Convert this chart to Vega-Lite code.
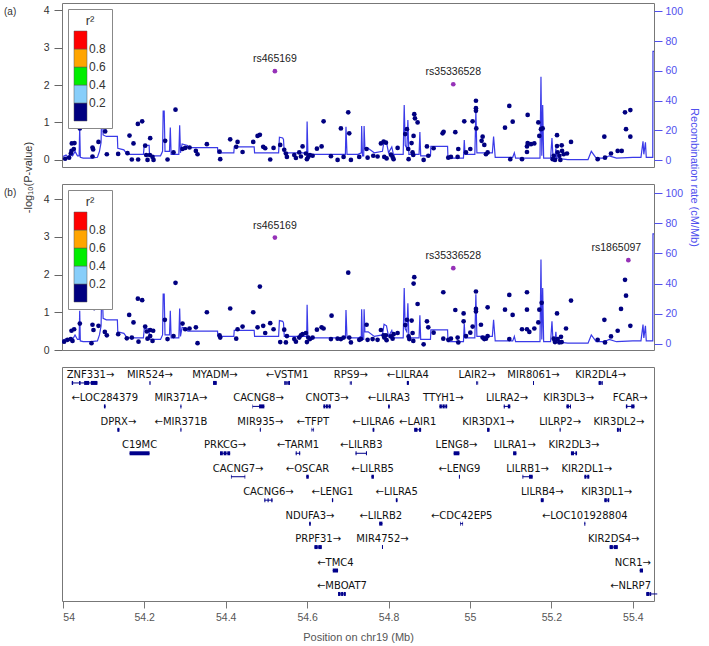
{
  "$schema": "https://vega.github.io/schema/vega-lite/v6.json",
  "padding": {"left": 3, "top": 2, "right": 1, "bottom": 1},
  "bounds": "flush",
  "spacing": 17,
  "datasets": {
    "recomb": [
      {"pos":54.000,"rate":2.5},{"pos":54.008,"rate":3.5},{"pos":54.012,"rate":2},{"pos":54.018,"rate":4},{"pos":54.024,"rate":3},{"pos":54.030,"rate":6},{"pos":54.036,"rate":3},{"pos":54.040,"rate":3},{"pos":54.0415,"rate":22},{"pos":54.043,"rate":2},{"pos":54.050,"rate":1.5},{"pos":54.070,"rate":1.5},{"pos":54.085,"rate":2},{"pos":54.090,"rate":6},{"pos":54.094,"rate":12},{"pos":54.096,"rate":42},{"pos":54.099,"rate":17},{"pos":54.107,"rate":16},{"pos":54.134,"rate":16},{"pos":54.135,"rate":8},{"pos":54.150,"rate":7},{"pos":54.158,"rate":4},{"pos":54.198,"rate":4},{"pos":54.200,"rate":10},{"pos":54.212,"rate":10},{"pos":54.213,"rate":3},{"pos":54.240,"rate":3},{"pos":54.245,"rate":6},{"pos":54.2465,"rate":33},{"pos":54.249,"rate":33},{"pos":54.251,"rate":6},{"pos":54.262,"rate":6},{"pos":54.264,"rate":22},{"pos":54.266,"rate":4},{"pos":54.285,"rate":4},{"pos":54.287,"rate":23.5},{"pos":54.289,"rate":5},{"pos":54.293,"rate":11},{"pos":54.306,"rate":10},{"pos":54.307,"rate":8.5},{"pos":54.380,"rate":8.5},{"pos":54.381,"rate":5},{"pos":54.420,"rate":5},{"pos":54.421,"rate":9},{"pos":54.470,"rate":9},{"pos":54.471,"rate":5},{"pos":54.530,"rate":5},{"pos":54.532,"rate":15.5},{"pos":54.540,"rate":15},{"pos":54.542,"rate":14},{"pos":54.544,"rate":5},{"pos":54.599,"rate":5},{"pos":54.600,"rate":26},{"pos":54.602,"rate":4},{"pos":54.694,"rate":4},{"pos":54.6955,"rate":22.5},{"pos":54.698,"rate":4},{"pos":54.725,"rate":4},{"pos":54.733,"rate":5},{"pos":54.734,"rate":23},{"pos":54.736,"rate":3},{"pos":54.739,"rate":3},{"pos":54.740,"rate":23},{"pos":54.742,"rate":8},{"pos":54.750,"rate":8},{"pos":54.765,"rate":5},{"pos":54.785,"rate":6},{"pos":54.789,"rate":13},{"pos":54.795,"rate":12},{"pos":54.800,"rate":5},{"pos":54.808,"rate":9},{"pos":54.812,"rate":4},{"pos":54.836,"rate":4},{"pos":54.8385,"rate":37},{"pos":54.841,"rate":10},{"pos":54.845,"rate":8},{"pos":54.8475,"rate":27},{"pos":54.850,"rate":4},{"pos":54.875,"rate":4},{"pos":54.877,"rate":19},{"pos":54.879,"rate":3},{"pos":54.903,"rate":3},{"pos":54.904,"rate":9.4},{"pos":54.945,"rate":9.4},{"pos":54.946,"rate":1.5},{"pos":54.984,"rate":1.5},{"pos":54.986,"rate":13.6},{"pos":54.988,"rate":4},{"pos":55.012,"rate":4},{"pos":55.0145,"rate":33},{"pos":55.017,"rate":5},{"pos":55.055,"rate":5},{"pos":55.058,"rate":16},{"pos":55.062,"rate":2},{"pos":55.105,"rate":2},{"pos":55.109,"rate":5},{"pos":55.112,"rate":1.5},{"pos":55.172,"rate":1.5},{"pos":55.1744,"rate":56},{"pos":55.1765,"rate":3},{"pos":55.1786,"rate":37},{"pos":55.181,"rate":1.5},{"pos":55.198,"rate":1.5},{"pos":55.2014,"rate":15},{"pos":55.204,"rate":2},{"pos":55.209,"rate":2},{"pos":55.211,"rate":8},{"pos":55.213,"rate":1},{"pos":55.220,"rate":2},{"pos":55.225,"rate":1},{"pos":55.240,"rate":0.5},{"pos":55.290,"rate":0.5},{"pos":55.298,"rate":6},{"pos":55.310,"rate":1.5},{"pos":55.330,"rate":1.5},{"pos":55.342,"rate":3},{"pos":55.360,"rate":1.5},{"pos":55.400,"rate":2},{"pos":55.420,"rate":2},{"pos":55.425,"rate":12.8},{"pos":55.427,"rate":4},{"pos":55.431,"rate":12},{"pos":55.433,"rate":2},{"pos":55.449,"rate":2},{"pos":55.4495,"rate":73},{"pos":55.452,"rate":73}
    ],
    "snpA": [
      {"pos":54.0057,"logp":0.03,"r2":0.1},{"pos":54.0155,"logp":0.06,"r2":0.1},{"pos":54.0197,"logp":0.17,"r2":0.1},{"pos":54.0221,"logp":0.44,"r2":0.1},{"pos":54.0287,"logp":0.45,"r2":0.1},{"pos":54.027,"logp":0.29,"r2":0.1},{"pos":54.0213,"logp":0.24,"r2":0.1},{"pos":54.0418,"logp":0.84,"r2":0.1},{"pos":54.0769,"logp":1.1,"r2":0.1},{"pos":54.0729,"logp":0.33,"r2":0.1},{"pos":54.0745,"logp":0.28,"r2":0.1},{"pos":54.0729,"logp":0.09,"r2":0.1},{"pos":54.0876,"logp":0.48,"r2":0.1},{"pos":54.104,"logp":0.76,"r2":0.1},{"pos":54.1081,"logp":0.15,"r2":0.1},{"pos":54.1359,"logp":0.16,"r2":0.1},{"pos":54.1638,"logp":0.65,"r2":0.1},{"pos":54.1736,"logp":0.44,"r2":0.1},{"pos":54.1589,"logp":0.18,"r2":0.1},{"pos":54.1695,"logp":0.01,"r2":0.1},{"pos":54.1843,"logp":0.96,"r2":0.1},{"pos":54.1949,"logp":1.03,"r2":0.1},{"pos":54.185,"logp":0.01,"r2":0.1},{"pos":54.2023,"logp":0.38,"r2":0.1},{"pos":54.2146,"logp":0.58,"r2":0.1},{"pos":54.2048,"logp":0.13,"r2":0.1},{"pos":54.2081,"logp":0.0,"r2":0.1},{"pos":54.2228,"logp":0.0,"r2":0.1},{"pos":54.2138,"logp":0.13,"r2":0.1},{"pos":54.2203,"logp":0.08,"r2":0.1},{"pos":54.2514,"logp":0.51,"r2":0.1},{"pos":54.2572,"logp":0.01,"r2":0.1},{"pos":54.2768,"logp":1.34,"r2":0.1},{"pos":54.2719,"logp":0.2,"r2":0.1},{"pos":54.294,"logp":0.29,"r2":0.1},{"pos":54.3006,"logp":0.32,"r2":0.1},{"pos":54.3113,"logp":0.33,"r2":0.1},{"pos":54.3268,"logp":0.24,"r2":0.1},{"pos":54.3309,"logp":0.15,"r2":0.1},{"pos":54.3538,"logp":0.42,"r2":0.1},{"pos":54.385,"logp":0.22,"r2":0.1},{"pos":54.3866,"logp":0.02,"r2":0.1},{"pos":54.4111,"logp":0.55,"r2":0.1},{"pos":54.4259,"logp":0.35,"r2":0.1},{"pos":54.4292,"logp":0.48,"r2":0.1},{"pos":54.4415,"logp":0.21,"r2":0.1},{"pos":54.4676,"logp":0.48,"r2":0.1},{"pos":54.4783,"logp":0.64,"r2":0.1},{"pos":54.484,"logp":0.67,"r2":0.1},{"pos":54.4922,"logp":0.35,"r2":0.1},{"pos":54.4971,"logp":0.31,"r2":0.1},{"pos":54.5094,"logp":0.01,"r2":0.1},{"pos":54.5176,"logp":0.32,"r2":0.1},{"pos":54.534,"logp":0.4,"r2":0.1},{"pos":54.5438,"logp":0.27,"r2":0.1},{"pos":54.5479,"logp":0.17,"r2":0.1},{"pos":54.5504,"logp":0.08,"r2":0.1},{"pos":54.5684,"logp":0.13,"r2":0.1},{"pos":54.5725,"logp":0.05,"r2":0.1},{"pos":54.5807,"logp":0.2,"r2":0.1},{"pos":54.5848,"logp":0.09,"r2":0.1},{"pos":54.5889,"logp":0.36,"r2":0.1},{"pos":54.5971,"logp":0.17,"r2":0.1},{"pos":54.5995,"logp":0.02,"r2":0.1},{"pos":54.6028,"logp":0.08,"r2":0.1},{"pos":54.6069,"logp":0.13,"r2":0.1},{"pos":54.6135,"logp":0.11,"r2":0.1},{"pos":54.6241,"logp":0.3,"r2":0.1},{"pos":54.6356,"logp":0.36,"r2":0.1},{"pos":54.6405,"logp":1.03,"r2":0.1},{"pos":54.6585,"logp":0.1,"r2":0.1},{"pos":54.6749,"logp":0.0,"r2":0.1},{"pos":54.683,"logp":0.84,"r2":0.1},{"pos":54.6896,"logp":0.08,"r2":0.1},{"pos":54.701,"logp":1.27,"r2":0.1},{"pos":54.7035,"logp":0.71,"r2":0.1},{"pos":54.7076,"logp":0.0,"r2":0.1},{"pos":54.728,"logp":0.08,"r2":0.1},
      {"pos":54.746,"logp":0.29,"r2":0.1},{"pos":54.7486,"logp":0.06,"r2":0.1},{"pos":54.7625,"logp":0.11,"r2":0.1},{"pos":54.7731,"logp":0.09,"r2":0.1},{"pos":54.7813,"logp":0.44,"r2":0.1},{"pos":54.7879,"logp":0.49,"r2":0.1},{"pos":54.7936,"logp":0.46,"r2":0.1},{"pos":54.7895,"logp":0.08,"r2":0.1},{"pos":54.7953,"logp":0.04,"r2":0.1},{"pos":54.8059,"logp":0.14,"r2":0.1},{"pos":54.81,"logp":0.08,"r2":0.1},{"pos":54.8124,"logp":0.02,"r2":0.1},{"pos":54.8223,"logp":0.32,"r2":0.1},{"pos":54.841,"logp":0.69,"r2":0.1},{"pos":54.8452,"logp":0.82,"r2":0.1},{"pos":54.8484,"logp":0.29,"r2":0.1},{"pos":54.8493,"logp":0.02,"r2":0.1},{"pos":54.8566,"logp":0.45,"r2":0.1},{"pos":54.859,"logp":0.2,"r2":0.1},{"pos":54.8607,"logp":0.13,"r2":0.1},{"pos":54.8615,"logp":0.64,"r2":0.1},{"pos":54.8632,"logp":1.22,"r2":0.1},{"pos":54.8649,"logp":1.11,"r2":0.1},{"pos":54.8714,"logp":1.0,"r2":0.1},{"pos":54.8862,"logp":0.0,"r2":0.1},{"pos":54.8943,"logp":0.36,"r2":0.1},{"pos":54.8976,"logp":0.11,"r2":0.1},{"pos":54.9107,"logp":0.31,"r2":0.1},{"pos":54.9328,"logp":0.71,"r2":0.1},{"pos":54.9353,"logp":0.75,"r2":0.1},{"pos":54.9467,"logp":0.06,"r2":0.1},{"pos":54.9533,"logp":0.08,"r2":0.1},{"pos":54.964,"logp":0.74,"r2":0.1},{"pos":54.9697,"logp":0.08,"r2":0.1},{"pos":54.9713,"logp":0.29,"r2":0.1},{"pos":54.986,"logp":1.03,"r2":0.1},{"pos":54.9902,"logp":0.2,"r2":0.1},{"pos":55.0008,"logp":0.29,"r2":0.1},{"pos":55.0065,"logp":1.03,"r2":0.1},{"pos":55.0147,"logp":1.58,"r2":0.1},{"pos":55.0147,"logp":1.38,"r2":0.1},{"pos":55.0147,"logp":1.31,"r2":0.1},{"pos":55.0155,"logp":0.84,"r2":0.1},{"pos":55.0286,"logp":0.51,"r2":0.1},{"pos":55.0311,"logp":0.62,"r2":0.1},{"pos":55.0352,"logp":0.4,"r2":0.1},{"pos":55.0393,"logp":0.15,"r2":0.1},{"pos":55.0434,"logp":0.2,"r2":0.1},{"pos":55.086,"logp":0.86,"r2":0.1},{"pos":55.0966,"logp":1.44,"r2":0.1},{"pos":55.0991,"logp":0.02,"r2":0.1},{"pos":55.1049,"logp":1.02,"r2":0.1},{"pos":55.1278,"logp":0.02,"r2":0.1},{"pos":55.14,"logp":0.21,"r2":0.1},{"pos":55.14,"logp":0.36,"r2":0.1},{"pos":55.1417,"logp":1.2,"r2":0.1},{"pos":55.1417,"logp":0.45,"r2":0.1},{"pos":55.1499,"logp":0.42,"r2":0.1},{"pos":55.158,"logp":0.44,"r2":0.1},{"pos":55.1679,"logp":1.0,"r2":0.1},{"pos":55.1703,"logp":0.64,"r2":0.1},{"pos":55.1744,"logp":0.82,"r2":0.1},{"pos":55.1786,"logp":0.84,"r2":0.1},{"pos":55.2031,"logp":0.02,"r2":0.1},{"pos":55.2056,"logp":0.11,"r2":0.1},{"pos":55.2088,"logp":0.0,"r2":0.1},{"pos":55.2138,"logp":0.66,"r2":0.1},{"pos":55.2138,"logp":0.37,"r2":0.1},{"pos":55.2154,"logp":0.2,"r2":0.1},{"pos":55.2195,"logp":0.11,"r2":0.1},{"pos":55.222,"logp":0.0,"r2":0.1},{"pos":55.2253,"logp":0.39,"r2":0.1},{"pos":55.2262,"logp":0.24,"r2":0.1},{"pos":55.2302,"logp":0.15,"r2":0.1},{"pos":55.2383,"logp":0.17,"r2":0.1},{"pos":55.2482,"logp":0.48,"r2":0.1},{"pos":55.3137,"logp":0.02,"r2":0.1},{"pos":55.33,"logp":0.62,"r2":0.1},{"pos":55.3317,"logp":0.06,"r2":0.1},{"pos":55.3464,"logp":0.17,"r2":0.1},{"pos":55.3628,"logp":0.24,"r2":0.1},{"pos":55.3727,"logp":0.24,"r2":0.1},{"pos":55.3808,"logp":1.27,"r2":0.1},{"pos":55.3939,"logp":1.33,"r2":0.1},{"pos":55.3833,"logp":0.82,"r2":0.1},{"pos":55.3939,"logp":0.62,"r2":0.1},
      {"pos":54.5209,"logp":2.37,"r2":1,"lead":true,"snp":"rs465169"},
      {"pos":54.959,"logp":2.02,"r2":1,"lead":true,"snp":"rs35336528"}
    ],
    "snpB": [
      {"pos":54.0033,"logp":0.22,"r2":0.1},{"pos":54.0115,"logp":0.27,"r2":0.1},{"pos":54.0197,"logp":0.29,"r2":0.1},{"pos":54.0213,"logp":0.51,"r2":0.1},{"pos":54.0278,"logp":0.55,"r2":0.1},{"pos":54.0238,"logp":0.24,"r2":0.1},{"pos":54.0418,"logp":0.7,"r2":0.1},{"pos":54.077,"logp":1.11,"r2":0.1},{"pos":54.0729,"logp":0.67,"r2":0.1},{"pos":54.0753,"logp":0.53,"r2":0.1},{"pos":54.0704,"logp":0.18,"r2":0.1},{"pos":54.0876,"logp":0.64,"r2":0.1},{"pos":54.1032,"logp":0.48,"r2":0.1},{"pos":54.1081,"logp":0.39,"r2":0.1},{"pos":54.136,"logp":0.42,"r2":0.1},{"pos":54.163,"logp":0.93,"r2":0.1},{"pos":54.1736,"logp":0.73,"r2":0.1},{"pos":54.1572,"logp":0.31,"r2":0.1},{"pos":54.1695,"logp":0.33,"r2":0.1},{"pos":54.1843,"logp":1.36,"r2":0.1},{"pos":54.1949,"logp":1.32,"r2":0.1},{"pos":54.1859,"logp":0.22,"r2":0.1},{"pos":54.2023,"logp":0.62,"r2":0.1},{"pos":54.2146,"logp":0.53,"r2":0.1},{"pos":54.2064,"logp":0.49,"r2":0.1},{"pos":54.208,"logp":0.3,"r2":0.1},{"pos":54.2219,"logp":0.51,"r2":0.1},{"pos":54.2146,"logp":0.37,"r2":0.1},{"pos":54.2203,"logp":0.24,"r2":0.1},{"pos":54.2506,"logp":0.8,"r2":0.1},{"pos":54.2572,"logp":0.29,"r2":0.1},{"pos":54.2768,"logp":1.78,"r2":0.1},{"pos":54.2719,"logp":0.37,"r2":0.1},{"pos":54.294,"logp":0.7,"r2":0.1},{"pos":54.3006,"logp":0.55,"r2":0.1},{"pos":54.3112,"logp":0.57,"r2":0.1},{"pos":54.3268,"logp":0.6,"r2":0.1},{"pos":54.3309,"logp":0.18,"r2":0.1},{"pos":54.3538,"logp":1.0,"r2":0.1},{"pos":54.385,"logp":0.39,"r2":0.1},{"pos":54.3866,"logp":0.33,"r2":0.1},{"pos":54.4111,"logp":1.1,"r2":0.1},{"pos":54.4259,"logp":0.3,"r2":0.1},{"pos":54.4292,"logp":0.55,"r2":0.1},{"pos":54.4415,"logp":0.62,"r2":0.1},{"pos":54.4676,"logp":1.0,"r2":0.1},{"pos":54.4783,"logp":0.6,"r2":0.1},{"pos":54.484,"logp":1.68,"r2":0.1},{"pos":54.4922,"logp":0.64,"r2":0.1},{"pos":54.4971,"logp":0.45,"r2":0.1},{"pos":54.5094,"logp":0.71,"r2":0.1},{"pos":54.5176,"logp":0.55,"r2":0.1},{"pos":54.534,"logp":0.21,"r2":0.1},{"pos":54.5438,"logp":0.54,"r2":0.1},{"pos":54.5479,"logp":0.2,"r2":0.1},{"pos":54.5504,"logp":0.37,"r2":0.1},{"pos":54.5684,"logp":0.29,"r2":0.1},{"pos":54.5725,"logp":0.22,"r2":0.1},{"pos":54.5807,"logp":0.33,"r2":0.1},{"pos":54.5848,"logp":0.39,"r2":0.1},{"pos":54.5889,"logp":0.42,"r2":0.1},{"pos":54.5971,"logp":0.45,"r2":0.1},{"pos":54.5995,"logp":0.21,"r2":0.1},{"pos":54.6028,"logp":0.33,"r2":0.1},{"pos":54.6069,"logp":0.29,"r2":0.1},{"pos":54.6135,"logp":0.33,"r2":0.1},{"pos":54.6241,"logp":0.54,"r2":0.1},{"pos":54.6356,"logp":0.6,"r2":0.1},{"pos":54.6405,"logp":0.57,"r2":0.1},{"pos":54.6585,"logp":0.29,"r2":0.1},{"pos":54.6601,"logp":0.91,"r2":0.1},{"pos":54.6749,"logp":0.3,"r2":0.1},{"pos":54.683,"logp":0.29,"r2":0.1},{"pos":54.6896,"logp":0.33,"r2":0.1},{"pos":54.701,"logp":2.05,"r2":0.1},{"pos":54.7035,"logp":0.33,"r2":0.1},{"pos":54.7076,"logp":0.2,"r2":0.1},{"pos":54.7281,"logp":0.27,"r2":0.1},
      {"pos":54.7322,"logp":0.29,"r2":0.1},{"pos":54.7461,"logp":0.67,"r2":0.1},{"pos":54.7486,"logp":0.27,"r2":0.1},{"pos":54.7609,"logp":0.29,"r2":0.1},{"pos":54.7731,"logp":0.27,"r2":0.1},{"pos":54.7813,"logp":0.53,"r2":0.1},{"pos":54.7879,"logp":0.39,"r2":0.1},{"pos":54.7895,"logp":0.33,"r2":0.1},{"pos":54.7936,"logp":0.39,"r2":0.1},{"pos":54.7952,"logp":0.26,"r2":0.1},{"pos":54.8059,"logp":0.36,"r2":0.1},{"pos":54.81,"logp":0.3,"r2":0.1},{"pos":54.8124,"logp":0.42,"r2":0.1},{"pos":54.8223,"logp":0.45,"r2":0.1},{"pos":54.8411,"logp":0.66,"r2":0.1},{"pos":54.8452,"logp":0.8,"r2":0.1},{"pos":54.8493,"logp":0.36,"r2":0.1},{"pos":54.8509,"logp":0.29,"r2":0.1},{"pos":54.8567,"logp":0.78,"r2":0.1},{"pos":54.8591,"logp":0.45,"r2":0.1},{"pos":54.8608,"logp":0.24,"r2":0.1},{"pos":54.8616,"logp":1.76,"r2":0.1},{"pos":54.8632,"logp":1.93,"r2":0.1},{"pos":54.8714,"logp":1.22,"r2":0.1},{"pos":54.8862,"logp":0.15,"r2":0.1},{"pos":54.8943,"logp":0.76,"r2":0.1},{"pos":54.8976,"logp":0.6,"r2":0.1},{"pos":54.9107,"logp":0.46,"r2":0.1},{"pos":54.9345,"logp":1.53,"r2":0.1},{"pos":54.9345,"logp":0.3,"r2":0.1},{"pos":54.9468,"logp":0.27,"r2":0.1},{"pos":54.9533,"logp":0.3,"r2":0.1},{"pos":54.964,"logp":1.06,"r2":0.1},{"pos":54.9697,"logp":0.33,"r2":0.1},{"pos":54.9713,"logp":0.2,"r2":0.1},{"pos":54.9844,"logp":0.76,"r2":0.1},{"pos":54.9844,"logp":0.97,"r2":0.1},{"pos":54.9902,"logp":0.37,"r2":0.1},{"pos":55.0008,"logp":0.46,"r2":0.1},{"pos":55.0066,"logp":0.62,"r2":0.1},{"pos":55.0147,"logp":1.55,"r2":0.1},{"pos":55.0147,"logp":1.09,"r2":0.1},{"pos":55.0147,"logp":1.02,"r2":0.1},{"pos":55.027,"logp":0.67,"r2":0.1},{"pos":55.0311,"logp":0.33,"r2":0.1},{"pos":55.0352,"logp":0.29,"r2":0.1},{"pos":55.0393,"logp":0.3,"r2":0.1},{"pos":55.0434,"logp":1.13,"r2":0.1},{"pos":55.0434,"logp":0.37,"r2":0.1},{"pos":55.086,"logp":1.07,"r2":0.1},{"pos":55.0966,"logp":1.46,"r2":0.1},{"pos":55.0966,"logp":0.29,"r2":0.1},{"pos":55.1048,"logp":0.93,"r2":0.1},{"pos":55.1278,"logp":0.55,"r2":0.1},{"pos":55.14,"logp":1.53,"r2":0.1},{"pos":55.14,"logp":1.07,"r2":0.1},{"pos":55.14,"logp":0.55,"r2":0.1},{"pos":55.1458,"logp":0.48,"r2":0.1},{"pos":55.1581,"logp":0.57,"r2":0.1},{"pos":55.1679,"logp":0.73,"r2":0.1},{"pos":55.1704,"logp":1.07,"r2":0.1},{"pos":55.1761,"logp":1.25,"r2":0.1},{"pos":55.2056,"logp":0.3,"r2":0.1},{"pos":55.2088,"logp":0.21,"r2":0.1},{"pos":55.2138,"logp":0.97,"r2":0.1},{"pos":55.2154,"logp":0.29,"r2":0.1},{"pos":55.2195,"logp":0.2,"r2":0.1},{"pos":55.2236,"logp":0.35,"r2":0.1},{"pos":55.2252,"logp":0.21,"r2":0.1},{"pos":55.2359,"logp":0.57,"r2":0.1},{"pos":55.2482,"logp":1.31,"r2":0.1},{"pos":55.3137,"logp":0.27,"r2":0.1},{"pos":55.3301,"logp":0.8,"r2":0.1},{"pos":55.3317,"logp":0.2,"r2":0.1},{"pos":55.3464,"logp":0.36,"r2":0.1},{"pos":55.3628,"logp":0.51,"r2":0.1},{"pos":55.371,"logp":1.09,"r2":0.1},{"pos":55.3808,"logp":1.86,"r2":0.1},{"pos":55.3833,"logp":1.44,"r2":0.1},{"pos":55.3939,"logp":0.64,"r2":0.1},
      {"pos":54.5209,"logp":2.98,"r2":1,"lead":true,"snp":"rs465169"},
      {"pos":54.959,"logp":2.17,"r2":1,"lead":true,"snp":"rs35336528"},
      {"pos":55.389,"logp":2.38,"r2":1,"lead":true,"snp":"rs1865097"}
    ],
    "genes": [
      {"label":"ZNF331→","row":1,"start":54.022,"end":54.085,"mid":54.0535},
      {"label":"MIR524→","row":1,"start":54.2129,"end":54.2153,"mid":54.2141},
      {"label":"MYADM→","row":1,"start":54.369,"end":54.378,"mid":54.3735},
      {"label":"←VSTM1","row":1,"start":54.544,"end":54.558,"mid":54.551},
      {"label":"RPS9→","row":1,"start":54.705,"end":54.710,"mid":54.7075},
      {"label":"←LILRA4","row":1,"start":54.845,"end":54.850,"mid":54.8475},
      {"label":"LAIR2→","row":1,"start":55.015,"end":55.020,"mid":55.0175},
      {"label":"MIR8061→","row":1,"start":55.1549,"end":55.1573,"mid":55.1561},
      {"label":"KIR2DL4→","row":1,"start":55.316,"end":55.326,"mid":55.321},
      {"label":"←LOC284379","row":2,"start":54.101,"end":54.105,"mid":54.103},
      {"label":"MIR371A→","row":2,"start":54.2889,"end":54.2913,"mid":54.2901},
      {"label":"CACNG8→","row":2,"start":54.466,"end":54.495,"mid":54.4805},
      {"label":"CNOT3→","row":2,"start":54.640,"end":54.658,"mid":54.649},
      {"label":"←LILRA3","row":2,"start":54.799,"end":54.803,"mid":54.801},
      {"label":"TTYH1→","row":2,"start":54.925,"end":54.944,"mid":54.9345},
      {"label":"LILRA2→","row":2,"start":55.083,"end":55.099,"mid":55.091},
      {"label":"KIR3DL3→","row":2,"start":55.237,"end":55.248,"mid":55.2425},
      {"label":"FCAR→","row":2,"start":55.383,"end":55.404,"mid":55.3935},
      {"label":"DPRX→","row":3,"start":54.134,"end":54.139,"mid":54.1365},
      {"label":"←MIR371B","row":3,"start":54.2889,"end":54.2913,"mid":54.2901},
      {"label":"MIR935→","row":3,"start":54.4839,"end":54.4863,"mid":54.4851},
      {"label":"←TFPT","row":3,"start":54.611,"end":54.617,"mid":54.614},
      {"label":"←LILRA6","row":3,"start":54.761,"end":54.765,"mid":54.763},
      {"label":"←LAIR1","row":3,"start":54.863,"end":54.880,"mid":54.8715},
      {"label":"KIR3DX1→","row":3,"start":55.042,"end":55.048,"mid":55.045},
      {"label":"LILRP2→","row":3,"start":55.2203,"end":55.2227,"mid":55.2215},
      {"label":"KIR3DL2→","row":3,"start":55.361,"end":55.371,"mid":55.366},
      {"label":"C19MC","row":4,"start":54.164,"end":54.213,"mid":54.1885},
      {"label":"PRKCG→","row":4,"start":54.386,"end":54.411,"mid":54.3985},
      {"label":"←TARM1","row":4,"start":54.572,"end":54.583,"mid":54.5775},
      {"label":"←LILRB3","row":4,"start":54.719,"end":54.747,"mid":54.733},
      {"label":"LENG8→","row":4,"start":54.960,"end":54.974,"mid":54.967},
      {"label":"LILRA1→","row":4,"start":55.106,"end":55.114,"mid":55.110},
      {"label":"KIR2DL3→","row":4,"start":55.248,"end":55.263,"mid":55.2555},
      {"label":"CACNG7→","row":5,"start":54.413,"end":54.448,"mid":54.4305},
      {"label":"←OSCAR","row":5,"start":54.598,"end":54.604,"mid":54.601},
      {"label":"←LILRB5","row":5,"start":54.758,"end":54.764,"mid":54.761},
      {"label":"←LENG9","row":5,"start":54.9729,"end":54.9753,"mid":54.9741},
      {"label":"LILRB1→","row":5,"start":55.129,"end":55.154,"mid":55.1415},
      {"label":"KIR2DL1→","row":5,"start":55.281,"end":55.293,"mid":55.287},
      {"label":"CACNG6→","row":6,"start":54.495,"end":54.515,"mid":54.505},
      {"label":"←LENG1","row":6,"start":54.661,"end":54.664,"mid":54.6625},
      {"label":"←LILRA5","row":6,"start":54.818,"end":54.822,"mid":54.820},
      {"label":"LILRB4→","row":6,"start":55.174,"end":55.181,"mid":55.1775},
      {"label":"KIR3DL1→","row":6,"start":55.330,"end":55.342,"mid":55.336},
      {"label":"NDUFA3→","row":7,"start":54.605,"end":54.609,"mid":54.607},
      {"label":"←LILRB2","row":7,"start":54.777,"end":54.785,"mid":54.781},
      {"label":"←CDC42EP5","row":7,"start":54.976,"end":54.983,"mid":54.9795},
      {"label":"←LOC101928804","row":7,"start":55.2809,"end":55.2833,"mid":55.2821},
      {"label":"PRPF31→","row":8,"start":54.618,"end":54.636,"mid":54.627},
      {"label":"MIR4752→","row":8,"start":54.7839,"end":54.7863,"mid":54.7851},
      {"label":"KIR2DS4→","row":8,"start":55.343,"end":55.363,"mid":55.353},
      {"label":"←TMC4","row":9,"start":54.663,"end":54.676,"mid":54.6695},
      {"label":"NCR1→","row":9,"start":55.417,"end":55.425,"mid":55.421},
      {"label":"←MBOAT7","row":10,"start":54.676,"end":54.695,"mid":54.6855},
      {"label":"←NLRP7","row":10,"start":55.433,"end":55.460,"mid":55.4465}
    ],
    "exons": [
      {"row":1,"start":54.022,"end":54.0253},{"row":1,"start":54.040,"end":54.0435},{"row":1,"start":54.0524,"end":54.0647},{"row":1,"start":54.0688,"end":54.085},
      {"row":1,"start":54.2129,"end":54.2153},{"row":1,"start":54.369,"end":54.378},
      {"row":1,"start":54.544,"end":54.5475},{"row":1,"start":54.549,"end":54.552},{"row":1,"start":54.5535,"end":54.558},
      {"row":1,"start":54.705,"end":54.7065},{"row":1,"start":54.7085,"end":54.710},
      {"row":1,"start":54.845,"end":54.850},
      {"row":1,"start":55.015,"end":55.0165},{"row":1,"start":55.0185,"end":55.020},
      {"row":1,"start":55.1549,"end":55.1573},
      {"row":1,"start":55.316,"end":55.3215},{"row":1,"start":55.323,"end":55.326},
      {"row":2,"start":54.101,"end":54.105},{"row":2,"start":54.2889,"end":54.2913},
      {"row":2,"start":54.466,"end":54.4672},{"row":2,"start":54.482,"end":54.495},
      {"row":2,"start":54.640,"end":54.6445},{"row":2,"start":54.646,"end":54.651},{"row":2,"start":54.6525,"end":54.658},
      {"row":2,"start":54.799,"end":54.803},
      {"row":2,"start":54.925,"end":54.931},{"row":2,"start":54.9325,"end":54.938},{"row":2,"start":54.9395,"end":54.944},
      {"row":2,"start":55.083,"end":55.0855},{"row":2,"start":55.093,"end":55.099},
      {"row":2,"start":55.237,"end":55.243},{"row":2,"start":55.2455,"end":55.248},
      {"row":2,"start":55.383,"end":55.3865},{"row":2,"start":55.396,"end":55.404},
      {"row":3,"start":54.134,"end":54.139},{"row":3,"start":54.2889,"end":54.2913},{"row":3,"start":54.4839,"end":54.4863},
      {"row":3,"start":54.611,"end":54.6125},{"row":3,"start":54.6155,"end":54.617},
      {"row":3,"start":54.761,"end":54.765},
      {"row":3,"start":54.863,"end":54.871},{"row":3,"start":54.875,"end":54.880},
      {"row":3,"start":55.042,"end":55.048},{"row":3,"start":55.2203,"end":55.2227},
      {"row":3,"start":55.361,"end":55.3655},{"row":3,"start":55.3675,"end":55.371},
      {"row":4,"start":54.164,"end":54.213},
      {"row":4,"start":54.386,"end":54.393},{"row":4,"start":54.395,"end":54.402},{"row":4,"start":54.404,"end":54.411},
      {"row":4,"start":54.572,"end":54.5745},{"row":4,"start":54.5805,"end":54.583},
      {"row":4,"start":54.719,"end":54.7215},{"row":4,"start":54.7445,"end":54.747},
      {"row":4,"start":54.960,"end":54.974},{"row":4,"start":55.106,"end":55.114},
      {"row":4,"start":55.248,"end":55.2555},{"row":4,"start":55.259,"end":55.263},
      {"row":5,"start":54.413,"end":54.4145},{"row":5,"start":54.4465,"end":54.448},
      {"row":5,"start":54.598,"end":54.604},{"row":5,"start":54.758,"end":54.764},{"row":5,"start":54.9729,"end":54.9753},
      {"row":5,"start":55.129,"end":55.131},{"row":5,"start":55.145,"end":55.154},
      {"row":5,"start":55.281,"end":55.286},{"row":5,"start":55.288,"end":55.293},
      {"row":6,"start":54.495,"end":54.4975},{"row":6,"start":54.503,"end":54.5055},{"row":6,"start":54.512,"end":54.515},
      {"row":6,"start":54.661,"end":54.664},{"row":6,"start":54.818,"end":54.822},{"row":6,"start":55.174,"end":55.181},
      {"row":6,"start":55.330,"end":55.336},{"row":6,"start":55.338,"end":55.342},
      {"row":7,"start":54.605,"end":54.609},{"row":7,"start":54.777,"end":54.785},
      {"row":7,"start":54.976,"end":54.9775},{"row":7,"start":54.9815,"end":54.983},
      {"row":7,"start":55.2809,"end":55.2833},
      {"row":8,"start":54.618,"end":54.626},{"row":8,"start":54.6275,"end":54.636},
      {"row":8,"start":54.7839,"end":54.7863},
      {"row":8,"start":55.343,"end":55.351},{"row":8,"start":55.353,"end":55.363},
      {"row":9,"start":54.663,"end":54.676},{"row":9,"start":55.417,"end":55.425},
      {"row":10,"start":54.676,"end":54.682},{"row":10,"start":54.6835,"end":54.689},{"row":10,"start":54.6905,"end":54.695},
      {"row":10,"start":55.433,"end":55.441},{"row":10,"start":55.4425,"end":55.445}
    ]
  },
  "vconcat": [
    {
      "width": 592,
      "height": 164,
      "title": {"text": "(a)", "orient": "top", "anchor": "start", "frame": "group", "dx": -58, "offset": -14, "fontSize": 10, "fontWeight": "normal", "color": "#333"},
      "layer": [
        {
          "data": {"name": "recomb"},
          "mark": {"type": "line", "color": "#3a3ae8", "strokeWidth": 1.2, "clip": true},
          "encoding": {
            "x": {"field": "pos", "type": "quantitative", "scale": {"domain": [53.998, 55.452], "nice": false, "zero": false}, "axis": null},
            "y": {"field": "rate", "type": "quantitative", "scale": {"domain": [-4.5, 105.5], "nice": false, "zero": false},
                  "axis": {"orient": "right", "values": [0, 20, 40, 60, 80, 100], "title": "Recombination rate (cM/Mb)", "titleY": 174, "labelColor": "#5050ee", "titleColor": "#5050ee", "tickColor": "#5050ee", "tickSize": 8, "labelPadding": 3, "titlePadding": 6}}
          }
        },
        {
          "data": {"name": "snpA"},
          "layer": [
            {
              "mark": {"type": "circle", "size": 22, "opacity": 1, "clip": true},
              "encoding": {
                "x": {"field": "pos", "type": "quantitative", "scale": {"domain": [53.998, 55.452], "nice": false, "zero": false}, "axis": null},
                "y": {"field": "logp", "type": "quantitative", "scale": {"domain": [-0.19, 4.19], "nice": false, "zero": false},
                      "axis": {"orient": "left", "values": [0, 1, 2, 3, 4], "title": "-log₁₀(P-value)", "titleY": 174, "tickSize": 8, "labelPadding": 5, "titlePadding": 10}},
                "color": {
                  "condition": {"test": "datum.lead", "value": "#9632b8"},
                  "field": "r2", "type": "quantitative",
                  "scale": {"type": "threshold", "domain": [0.2, 0.4, 0.6, 0.8], "range": ["#000080", "#87cefa", "#00ee00", "#ffa500", "#ff0000"]},
                  "legend": {"type": "gradient", "title": "r²", "orient": "top-left", "offset": 6}
                }
              }
            },
            {
              "transform": [{"filter": "datum.lead"}],
              "mark": {"type": "text", "dy": -9, "baseline": "alphabetic", "fontSize": 10.5, "color": "#222"},
              "encoding": {
                "x": {"field": "pos", "type": "quantitative"},
                "y": {"field": "logp", "type": "quantitative"},
                "text": {"field": "snp"}
              }
            }
          ]
        }
      ],
      "resolve": {"scale": {"y": "independent"}}
    },
    {
      "width": 592,
      "height": 166,
      "title": {"text": "(b)", "orient": "top", "anchor": "start", "frame": "group", "dx": -58, "offset": -14, "fontSize": 10, "fontWeight": "normal", "color": "#333"},
      "layer": [
        {
          "data": {"name": "recomb"},
          "mark": {"type": "line", "color": "#3a3ae8", "strokeWidth": 1.2, "clip": true},
          "encoding": {
            "x": {"field": "pos", "type": "quantitative", "scale": {"domain": [53.998, 55.452], "nice": false, "zero": false}, "axis": null},
            "y": {"field": "rate", "type": "quantitative", "scale": {"domain": [-4, 106], "nice": false, "zero": false},
                  "axis": {"orient": "right", "values": [0, 20, 40, 60, 80, 100], "title": null, "labelColor": "#5050ee", "tickColor": "#5050ee", "tickSize": 8, "labelPadding": 3}}
          }
        },
        {
          "data": {"name": "snpB"},
          "layer": [
            {
              "mark": {"type": "circle", "size": 22, "opacity": 1, "clip": true},
              "encoding": {
                "x": {"field": "pos", "type": "quantitative", "scale": {"domain": [53.998, 55.452], "nice": false, "zero": false}, "axis": null},
                "y": {"field": "logp", "type": "quantitative", "scale": {"domain": [0, 4.4], "nice": false, "zero": false},
                      "axis": {"orient": "left", "values": [0, 1, 2, 3, 4], "title": null, "tickSize": 8, "labelPadding": 5}},
                "color": {
                  "condition": {"test": "datum.lead", "value": "#9632b8"},
                  "field": "r2", "type": "quantitative",
                  "scale": {"type": "threshold", "domain": [0.2, 0.4, 0.6, 0.8], "range": ["#000080", "#87cefa", "#00ee00", "#ffa500", "#ff0000"]},
                  "legend": {"type": "gradient", "title": "r²", "orient": "top-left", "offset": 6}
                }
              }
            },
            {
              "transform": [{"filter": "datum.lead && datum.pos < 55.35"}],
              "mark": {"type": "text", "dy": -9, "baseline": "alphabetic", "fontSize": 10.5, "color": "#222"},
              "encoding": {
                "x": {"field": "pos", "type": "quantitative"},
                "y": {"field": "logp", "type": "quantitative"},
                "text": {"field": "snp"}
              }
            },
            {
              "transform": [{"filter": "datum.lead && datum.pos >= 55.35"}],
              "mark": {"type": "text", "dy": -9, "dx": -12, "baseline": "alphabetic", "fontSize": 10.5, "color": "#222"},
              "encoding": {
                "x": {"field": "pos", "type": "quantitative"},
                "y": {"field": "logp", "type": "quantitative"},
                "text": {"field": "snp"}
              }
            }
          ]
        }
      ],
      "resolve": {"scale": {"y": "independent"}}
    },
    {
      "width": 592,
      "height": 234,
      "encoding": {
        "x": {"field": "start", "type": "quantitative", "scale": {"domain": [53.998, 55.452], "nice": false, "zero": false},
              "axis": {"values": [54, 54.2, 54.4, 54.6, 54.8, 55, 55.2, 55.4], "format": "~g", "title": "Position on chr19 (Mb)", "tickSize": 7, "labelPadding": 4, "titlePadding": 9, "labelColor": "#555", "titleColor": "#555", "tickColor": "#777"}},
        "y": {"field": "row", "type": "quantitative", "scale": {"domain": [0.32, 10.3], "reverse": true, "nice": false, "zero": false}, "axis": null}
      },
      "layer": [
        {
          "data": {"name": "genes"},
          "mark": {"type": "rule", "color": "#00008b", "strokeWidth": 1},
          "encoding": {"x2": {"field": "end"}}
        },
        {
          "data": {"name": "exons"},
          "mark": {"type": "rule", "color": "#00008b", "strokeWidth": 4, "strokeCap": "butt"},
          "encoding": {"x2": {"field": "end"}}
        },
        {
          "data": {"name": "genes"},
          "transform": [{"filter": "datum.mid >= 54.06 && datum.mid <= 55.41"}],
          "mark": {"type": "text", "dy": -8, "font": "DejaVu Sans", "fontSize": 10, "color": "#111", "align": "center", "baseline": "middle"},
          "encoding": {"x": {"field": "mid", "type": "quantitative"}, "text": {"field": "label"}}
        },
        {
          "data": {"name": "genes"},
          "transform": [{"filter": "datum.mid > 55.41"}],
          "mark": {"type": "text", "dy": -8, "dx": -3, "font": "DejaVu Sans", "fontSize": 10, "color": "#111", "align": "right", "baseline": "middle"},
          "encoding": {"x": {"value": "width"}, "text": {"field": "label"}}
        },
        {
          "data": {"name": "genes"},
          "transform": [{"filter": "datum.mid < 54.06"}],
          "mark": {"type": "text", "dy": -8, "dx": -5, "font": "DejaVu Sans", "fontSize": 10, "color": "#111", "align": "left", "baseline": "middle"},
          "encoding": {"x": {"field": "start", "type": "quantitative"}, "text": {"field": "label"}}
        }
      ]
    }
  ],
  "resolve": {"scale": {"x": "independent", "y": "independent", "color": "independent"}, "legend": {"color": "independent"}},
  "config": {
    "font": "Liberation Sans",
    "view": {"stroke": "#777", "strokeWidth": 1},
    "axis": {"domain": false, "grid": false, "labelFontSize": 10.5, "titleFontSize": 11, "titleFontWeight": "normal", "labelColor": "#333", "titleColor": "#333", "tickColor": "#666"},
    "legend": {
      "direction": "vertical",
      "gradientLength": 90,
      "gradientThickness": 13,
      "gradientStrokeColor": "#555",
      "gradientStrokeWidth": 0.5,
      "padding": 6,
      "fillColor": "white",
      "strokeColor": "#888",
      "titleFontSize": 13,
      "titleFontWeight": "normal",
      "titleColor": "#333",
      "titleAnchor": "middle",
      "titlePadding": 3,
      "labelFontSize": 12,
      "labelColor": "#333",
      "labelOffset": 1,
      "labelExpr": "'–' + datum.label"
    }
  }
}
